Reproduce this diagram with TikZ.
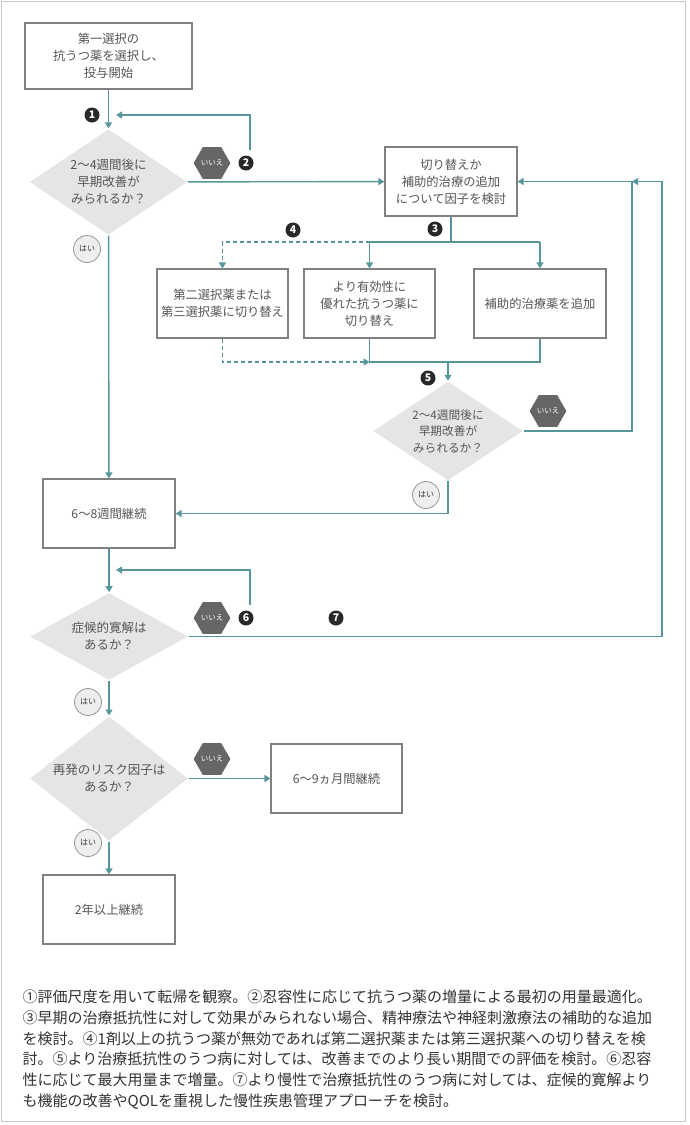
\documentclass[tikz,border=0pt]{standalone}
\usepackage{fontspec}
\setmainfont{Noto Sans CJK JP}
\usetikzlibrary{shapes.geometric,arrows.meta}
\definecolor{flowcol}{RGB}{88,150,158}
\definecolor{boxcol}{RGB}{128,128,128}
\definecolor{textcol}{RGB}{85,85,85}
\definecolor{decfill}{RGB}{229,229,229}
\definecolor{nofill}{RGB}{102,102,102}
\definecolor{yesfill}{RGB}{238,238,238}
\definecolor{yesdraw}{RGB}{150,150,150}
\definecolor{markcol}{RGB}{40,40,40}
\definecolor{framecol}{RGB}{200,200,200}
\begin{document}
\begin{tikzpicture}
[ x=1pt, y=-1pt, line width=1.4pt
, point/.style={coordinate}
, box/.style={rectangle, draw=boxcol, line width=1.2pt, text=textcol, align=center, inner sep=0pt, minimum width=132pt, minimum height=69pt, font=\fontsize{12.3}{17}\selectfont}
, decision/.style={diamond, fill=decfill, text=textcol, align=center, inner sep=-4pt, minimum width=158pt, minimum height=88pt, font=\fontsize{12.5}{17}\selectfont}
, nolabel/.style={regular polygon, regular polygon sides=6, fill=nofill, text=white, inner sep=0pt, minimum size=28pt, font=\fontsize{7.5}{7.5}\selectfont}
, yeslabel/.style={circle, fill=yesfill, draw=yesdraw, line width=0.8pt, text=textcol!70!black, inner sep=0pt, minimum size=27pt, font=\fontsize{8}{8}\selectfont}
, marker/.style={circle, fill=markcol, text=white, inner sep=0pt, minimum size=15pt, font=\fontsize{10.5}{10.5}\selectfont\bfseries}
, conn/.style={draw=flowcol}
, flow/.style={draw=flowcol, -{Triangle[width=7pt,length=6pt]}}
, dashflow/.style={flow, dash pattern=on 4pt off 3pt}
]
\useasboundingbox (0,0) rectangle (690,1125);
\draw [framecol, line width=1pt] (1,1) rectangle (685,1121);
% Main column:
\node (start) [box, minimum width=167pt, minimum height=66pt] at (108.5,56) {第一選択の\\抗うつ薬を選択し、\\投与開始};
\node (q1) [decision] at (108.5,182) {2〜4週間後に\\早期改善が\\みられるか？};
\node (cont) [box] at (109,513.5) {6〜8週間継続};
\node (q3) [decision, minimum height=87pt] at (109,636.5) {症候的寛解は\\あるか？};
\node (q4) [decision, minimum height=87pt] at (109,778.5) {再発のリスク因子は\\あるか？};
\node (years) [box] at (109,909.5) {2年以上継続};
\node (months) [box, minimum width=131pt] at (336.5,778.5) {6〜9ヵ月間継続};
% Switching branch:
\node (factor) [box] at (451,181.5) {切り替えか\\補助的治療の追加\\について因子を検討};
\node (alt) [box, minimum width=131pt] at (222.5,303.5) {第二選択薬または\\第三選択薬に切り替え};
\node (better) [box, minimum width=131pt] at (369.5,303.5) {より有効性に\\優れた抗うつ薬に\\切り替え};
\node (adjunct) [box] at (540,303.5) {補助的治療薬を追加};
\node (q2) [decision, minimum width=150pt, minimum height=87pt, font=\fontsize{11.7}{16.5}\selectfont] at (448,431) {2〜4週間後に\\早期改善が\\みられるか？};
% Points:
\node (loop1a) [point] at (250,150) {};
\node (loop1b) [point] at (116,115) {};
\node (loop2a) [point] at (250,605) {};
\node (loop2b) [point] at (116,570) {};
\node (split) [point] at (451,242) {};
\node (merge) [point] at (448,362) {};
\node (j2) [point] at (632,181.5) {};
\node (j3) [point] at (662,181.5) {};
% Labels:
\node (mk1) [marker] at (92,115) {1};
\node (mk2) [marker] at (246,163) {2};
\node (mk3) [marker] at (435,229) {3};
\node (mk4) [marker] at (293,230) {4};
\node (mk5) [marker] at (428,378) {5};
\node (mk6) [marker] at (246,618) {6};
\node (mk7) [marker] at (336,618) {7};
\node (no1) [nolabel] at (212,163) {いいえ};
\node (no2) [nolabel] at (548,411) {いいえ};
\node (no3) [nolabel] at (212,618) {いいえ};
\node (no4) [nolabel] at (212,759) {いいえ};
\node (yes1) [yeslabel] at (87,249) {はい};
\node (yes2) [yeslabel] at (426,495) {はい};
\node (yes3) [yeslabel] at (88,702) {はい};
\node (yes4) [yeslabel] at (88,843) {はい};
% Connectors:
\draw [flow] (start) -- (q1);
\draw [flow] (loop1a) |- (loop1b);
\draw [flow] (q1) -- (factor);
\draw [flow] (q1) -- (cont);
\draw [conn] (factor) -- (split);
\draw [conn] (better.north |- split) -- (adjunct.north |- split);
\draw [flow] (better.north |- split) -- (better);
\draw [flow] (adjunct.north |- split) -- (adjunct);
\draw [dashflow] (better.north |- split) -| (alt);
\draw [conn] (better) -- (better.south |- merge) -- (adjunct.south |- merge) -- (adjunct);
\draw [dashflow] (alt) |- (better.south |- merge);
\draw [flow] (merge) -- (q2);
\draw [flow] (q2) -| (j2) -- (factor);
\draw [flow] (q2) |- (cont);
\draw [flow] (cont) -- (q3);
\draw [flow] (loop2a) |- (loop2b);
\draw [flow] (q3) -| (j3) -- (j2);
\draw [flow] (q3) -- (q4);
\draw [flow] (q4) -- (months);
\draw [flow] (q4) -- (years);
% Notes:
\node (notes) [anchor=north west, align=left, inner sep=0pt, text=black!80, font=\fontsize{15}{20.8}\selectfont] at (22,989) {①評価尺度を用いて転帰を観察。②忍容性に応じて抗うつ薬の増量による最初の用量最適化。\\③早期の治療抵抗性に対して効果がみられない場合、精神療法や神経刺激療法の補助的な追加\\を検討。④1剤以上の抗うつ薬が無効であれば第二選択薬または第三選択薬への切り替えを検\\討。⑤より治療抵抗性のうつ病に対しては、改善までのより長い期間での評価を検討。⑥忍容\\性に応じて最大用量まで増量。⑦より慢性で治療抵抗性のうつ病に対しては、症候的寛解より\\も機能の改善やQOLを重視した慢性疾患管理アプローチを検討。};
\end{tikzpicture}
\end{document}
